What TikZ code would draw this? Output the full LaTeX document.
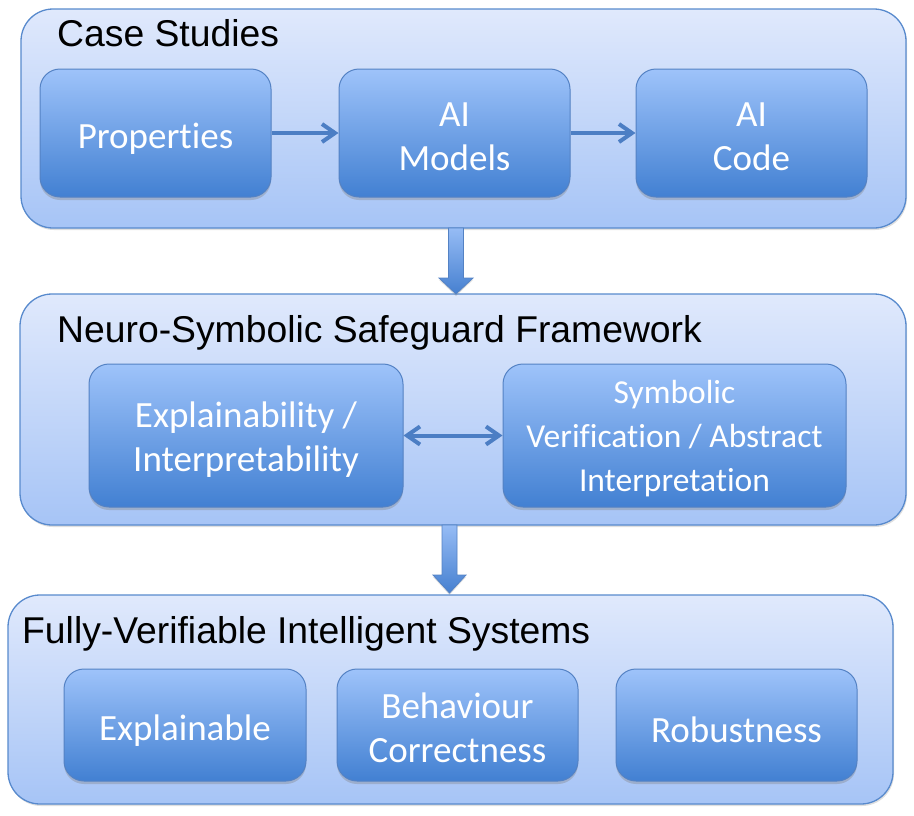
\documentclass[tikz,border=0pt]{standalone}
\usepackage{fontspec}
\setmainfont{Liberation Sans}
\newfontfamily\carlito[Ligatures=NoCommon]{Carlito}
\usetikzlibrary{arrows.meta,shadows,calc}
\definecolor{outtop}{RGB}{224,233,252}
\definecolor{outbot}{RGB}{166,196,246}
\definecolor{outline}{RGB}{88,138,205}
\definecolor{intop}{RGB}{158,195,250}
\definecolor{inbot}{RGB}{66,128,210}
\definecolor{inline}{RGB}{84,130,196}
\definecolor{arrcol}{RGB}{76,126,196}
\definecolor{bigtop}{RGB}{150,188,245}
\definecolor{bigbot}{RGB}{70,128,208}
\begin{document}
\begin{tikzpicture}[x=1pt,y=-1pt,
  outer/.style={draw=outline, line width=1.3pt, rounded corners=32pt,
    top color=outtop, bottom color=outbot, inner sep=0pt,
    drop shadow={shadow xshift=1pt,shadow yshift=-2pt,opacity=0.25}},
  inbox/.style={draw=inline, line width=1pt, rounded corners=20pt,
    top color=intop, bottom color=inbot, inner sep=0pt,
    drop shadow={shadow xshift=0pt,shadow yshift=-3pt,opacity=0.35}},
  intext/.style={inner sep=0pt, text=white, align=center,
    font=\carlito\fontsize{37}{44}\selectfont},
  smalltext/.style={intext, font=\carlito\fontsize{33.5}{44}\selectfont},
  titletext/.style={anchor=base west, inner sep=0pt, font=\fontsize{37.3}{44}\selectfont},
  link/.style={draw=arrcol, line width=4pt, -{Straight Barb[length=13pt,width=18pt]}},
  dlink/.style={draw=arrcol, line width=4pt, {Straight Barb[length=13pt,width=18pt]}-{Straight Barb[length=13pt,width=18pt]}},
  bigarrow/.style={draw=inline, line width=0.8pt, top color=bigtop, bottom color=bigbot,
    drop shadow={shadow xshift=0pt,shadow yshift=-2pt,opacity=0.25}}
]
\useasboundingbox (0,0) rectangle (914,815);

% outer containers
\node[outer, minimum width=885pt, minimum height=219pt] (cs) at (463.5,118.5) {};
\node[outer, minimum width=886pt, minimum height=231pt] (nsf) at (463,409.5) {};
\node[outer, minimum width=885pt, minimum height=209pt] (fvis) at (450.5,699.5) {};

% titles
\node[titletext] (t1) at (57,46) {Case Studies};
\node[titletext] (t2) at (57,342) {Neuro-Symbolic Safeguard Framework};
\node[titletext] (t3) at (22,643) {Fully-Verifiable Intelligent Systems};

% row 1
\node[inbox, minimum width=231pt, minimum height=128pt] (prop) at (155.5,133) {};
\node[inbox, minimum width=231pt, minimum height=128pt] (aim) at (454.5,133) {};
\node[inbox, minimum width=231pt, minimum height=128pt] (aic) at (751.5,133) {};
\node[intext] (propt) at ([yshift=-6pt]prop.center) {Properties};
\node[intext] (aimt) at ([yshift=-4pt]aim.center) {AI\\Models};
\node[intext] (aict) at ([yshift=-4pt]aic.center) {AI\\Code};

% row 2
\node[inbox, minimum width=314pt, minimum height=143pt] (expl) at (246,435.5) {};
\node[inbox, minimum width=343pt, minimum height=143pt] (symb) at (674.5,435.5) {};
\node[intext] (explt) at ([yshift=-4pt]expl.center) {Explainability /\\Interpretability};
\node[smalltext] (symbt) at ([yshift=-3pt]symb.center) {Symbolic\\Verification / Abstract\\Interpretation};

% row 3
\node[inbox, minimum width=242pt, minimum height=112pt] (expn) at (185,725) {};
\node[inbox, minimum width=241pt, minimum height=112pt] (behv) at (457.5,725) {};
\node[inbox, minimum width=241pt, minimum height=112pt] (robu) at (736.5,725) {};
\node[intext] (expnt) at ([yshift=-6pt]expn.center) {Explainable};
\node[intext] (behvt) at ([yshift=-3pt]behv.center) {Behaviour\\Correctness};
\node[intext] (robut) at ([yshift=-5pt]robu.center) {Robustness};

% small connectors
\draw[link] (prop) -- (aim);
\draw[link] (aim) -- (aic);
\draw[dlink] (expl) -- (symb);

% big arrows
\coordinate (a1) at (456,228);
\coordinate (a1tip) at (456,294);
\path[bigarrow] (a1) ++(-7.5,0) -- ++(0,50) -- ++(-9.5,0) -- (a1tip) -- ++(17,-16) -- ++(-9.5,0) -- ++(0,-50) -- cycle;
\coordinate (a2) at (449.5,525);
\coordinate (a2tip) at (449.5,593);
\path[bigarrow] (a2) ++(-7.5,0) -- ++(0,50) -- ++(-9,0) -- (a2tip) -- ++(16.5,-18) -- ++(-9,0) -- ++(0,-50) -- cycle;
\end{tikzpicture}
\end{document}
